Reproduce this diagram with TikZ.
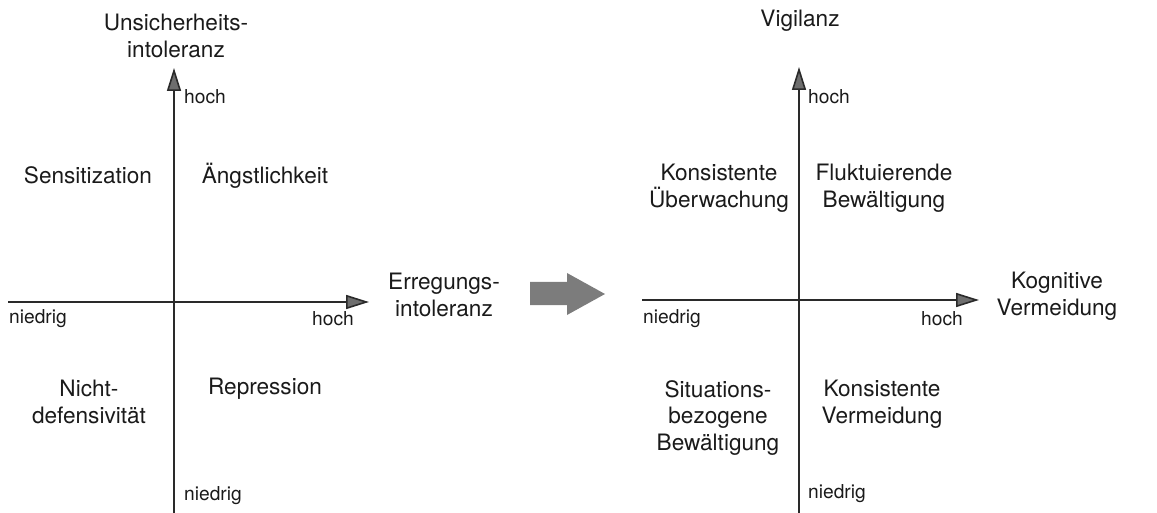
\documentclass[tikz,border=0pt]{standalone}
\usepackage{fontspec}
\setmainfont{TeX Gyre Heros}
\usetikzlibrary{arrows.meta}
\definecolor{ink}{HTML}{1A1A1A}
\definecolor{axisc}{HTML}{2A2A2A}
\definecolor{tipc}{HTML}{6E6E6E}
\definecolor{bigarrow}{HTML}{7C7C7C}
\tikzset{
  big/.style={font=\fontsize{22.6}{26.5}\selectfont, text=ink, align=center, inner sep=0pt},
  small/.style={font=\fontsize{19.2}{22}\selectfont, text=ink, inner sep=0pt},
  axisline/.style={draw=axisc, line width=1.6pt, -{Triangle[length=23pt,width=14pt,fill=tipc]}},
  plainaxis/.style={draw=axisc, line width=1.6pt},
}
\begin{document}
\begin{tikzpicture}[x=1pt,y=-1pt]
\useasboundingbox (0,0) rectangle (1157,513);
% ---------- left diagram ----------
\coordinate (LO) at (174,302);
\coordinate (LT) at (174,68);
\coordinate (LB) at (174,513);
\coordinate (LL) at (8,302);
\coordinate (LR) at (369,302);
\draw[plainaxis] (LB) -- (LO);
\draw[axisline] (LO) -- (LT);
\draw[plainaxis] (LL) -- (LO);
\draw[axisline] (LO) -- (LR);
\node[big] (uint) at (176,36) {Unsicherheits-\\intoleranz};
\node[small, anchor=west] (lhochv) at (184,97) {hoch};
\node[small, anchor=west] (lniedv) at (184,496) {niedrig};
\node[small, anchor=west] (lniedh) at (9,319) {niedrig};
\node[small, anchor=east] (lhochh) at (354,319) {hoch};
\node[big] (sens) at (88,175) {Sensitization};
\node[big] (angst) at (265,176) {Ängstlichkeit};
\node[big] (nicht) at (89,402) {Nicht-\\defensivität};
\node[big] (repr) at (265,389) {Repression};
\node[big] (erreg) at (444,295) {Erregungs-\\intoleranz};
% ---------- big arrow ----------
\fill[bigarrow] (530,282) -- (567,282) -- (567,273) -- (605,294) -- (567,315) -- (567,305) -- (530,305) -- cycle;
% ---------- right diagram ----------
\coordinate (RO) at (799,300);
\coordinate (RT) at (799,67);
\coordinate (RB) at (799,513);
\coordinate (RL) at (642,300);
\coordinate (RR) at (979,300);
\draw[plainaxis] (RB) -- (RO);
\draw[axisline] (RO) -- (RT);
\draw[plainaxis] (RL) -- (RO);
\draw[axisline] (RO) -- (RR);
\node[big] (vig) at (800,21) {Vigilanz};
\node[small, anchor=west] (rhochv) at (808,97) {hoch};
\node[small, anchor=west] (rniedv) at (808,494) {niedrig};
\node[small, anchor=west] (rniedh) at (643,319) {niedrig};
\node[small, anchor=east] (rhochh) at (963,319) {hoch};
\node[big] (kueb) at (719,188) {Konsistente\\Überwachung};
\node[big] (fluk) at (884,188) {Fluktuierende\\Bewältigung};
\node[big] (kogv) at (1057,296) {Kognitive\\Vermeidung};
\node[big] (situ) at (718,418) {Situations-\\bezogene\\Bewältigung};
\node[big] (kverm) at (882,404) {Konsistente\\Vermeidung};
\end{tikzpicture}
\end{document}
